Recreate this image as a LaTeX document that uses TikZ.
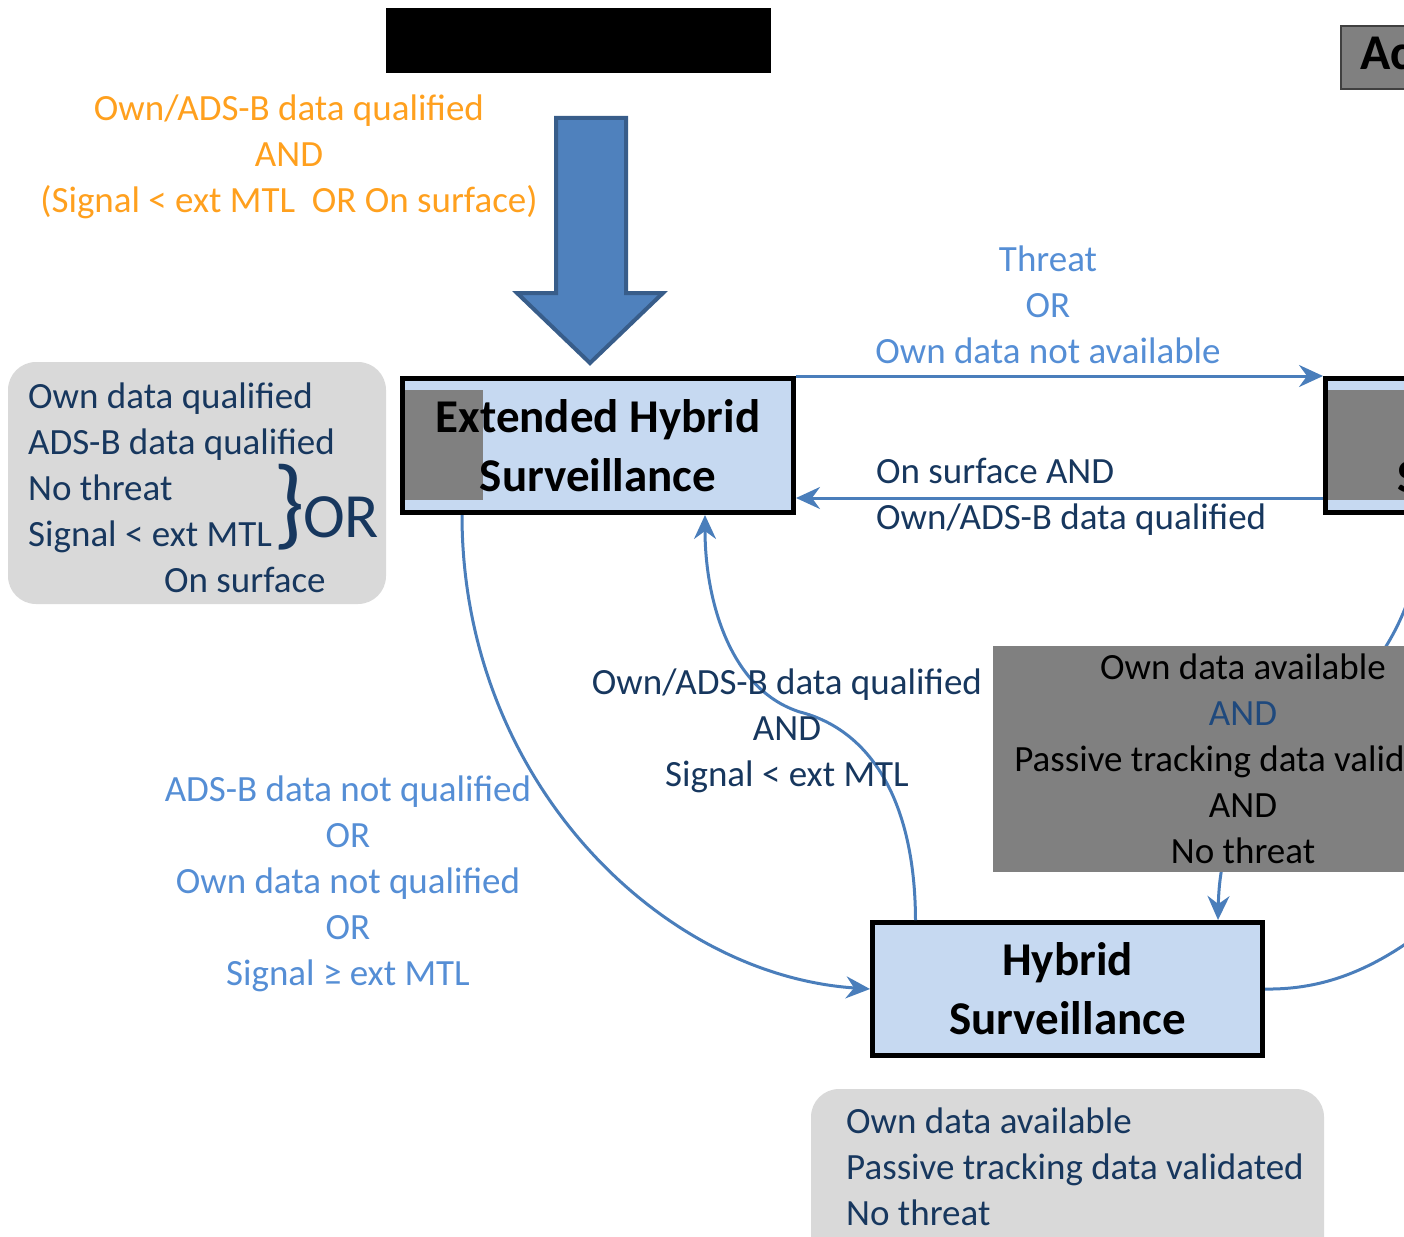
\documentclass[tikz,border=0pt]{standalone}
\usepackage{fontspec}
\setmainfont{Carlito}
\usetikzlibrary{arrows.meta}

\definecolor{connblue}{RGB}{74,126,187}
\definecolor{labelblue}{RGB}{85,142,213}
\definecolor{darknavy}{RGB}{23,55,94}
\definecolor{andblue}{RGB}{31,73,125}
\definecolor{entryorange}{RGB}{255,160,30}
\definecolor{boxblue}{RGB}{198,217,241}
\definecolor{midgray}{RGB}{128,128,128}
\definecolor{notegray}{RGB}{217,217,217}
\definecolor{arrowfill}{RGB}{79,129,189}
\definecolor{arrowedge}{RGB}{56,93,138}
\definecolor{actedge}{RGB}{64,64,64}

\begin{document}
\begin{tikzpicture}[x=1pt,y=-1pt,font=\fontsize{37}{46}\selectfont]
\tikzset{
% state boxes, the grey patch inside them, notes and transitions
state/.style={draw=black,line width=5pt,fill=boxblue,inner sep=0pt,align=center,
  font=\fontsize{47}{59}\selectfont\bfseries},
gray part/.style={path picture={\fill[midgray]
  ([xshift=2.5pt,yshift=-11.5pt]path picture bounding box.north west) rectangle
  ([xshift=#1,yshift=12.5pt]path picture bounding box.south west);}},
note/.style={fill=notegray,rounded corners=28pt},
label text/.style={inner sep=0pt},
conn/.style={connblue,line width=3pt,-{Stealth[length=24pt,width=22pt,inset=8pt]}}
}
\useasboundingbox (0,0) rectangle (1404,1236);
\clip (0,0) rectangle (1404,1236);

% top of the page
\fill (386,8) rectangle (771,73);
\node (act)[draw=actedge,fill=midgray,line width=2pt,minimum width=120pt,minimum height=63pt,
  anchor=north west,inner sep=0pt] at (1340,25) {};
\node (acttext)[label text,anchor=base west,font=\fontsize{50}{60}\selectfont\bfseries] at (1360,70) {Ac};

% entry into extended hybrid surveillance
\node (entry)[label text,entryorange,align=center,anchor=north] at (289,95)
  {Own/ADS-B data qualified\\AND\\(Signal < ext MTL\ \ OR On surface)};
\draw[fill=arrowfill,draw=arrowedge,line width=4pt] (556,118) -- (626,118) -- (626,293)
  -- (663,293) -- (590,363) -- (517,293) -- (556,293) -- cycle;

% conditions held in extended hybrid surveillance
\path[note] (8,362) rectangle (386,604);
\node (ehsnote)[label text,darknavy,align=left,anchor=north west] at (28,383)
  {Own data qualified\\ADS-B data qualified\\No threat\\Signal < ext MTL\\\hspace*{136pt}On surface};
\node (brace)[label text,darknavy,font=\fontsize{100}{110}\selectfont] at (289,507) {\}};
\node (or)[label text,darknavy,anchor=base west,font=\fontsize{63}{70}\selectfont] at (303,537) {OR};

% the states
\node (ehs)[state,gray part=80.5pt,minimum width=391pt,minimum height=134pt] at (598,445.5)
  {Extended Hybrid\\Surveillance};
\node (sv)[state,gray part=300pt,minimum width=199pt,minimum height=134pt] at (1425,445.5) {};
\node (svtext)[label text,anchor=base west,font=\fontsize{47}{59}\selectfont\bfseries] at (1397,492) {S};
\node (hs)[state,minimum width=390pt,minimum height=133pt] at (1067.5,989)
  {Hybrid\\Surveillance};

% transitions
\coordinate (lowrow) at (0,498);
\coordinate (offright) at (1460,900);
\draw[conn] (ehs.north east) -- (sv.north west);
\draw[conn] (sv.west |- lowrow) -- (ehs.east |- lowrow);
\draw[conn] ([xshift=62pt]ehs.south west) .. controls (462,780) and (660,975) .. (hs.west);
\draw[conn] ([xshift=-152pt]hs.north) .. controls (915,800) and (870,730) .. (800,712)
  .. controls (730,690) and (705,600) .. ([xshift=107pt]ehs.south);
\draw[conn] (sv.south) .. controls (1410,740) and (1222,720) .. ([xshift=150.5pt]hs.north);
\draw[connblue,line width=3pt] (hs.east) .. controls (1330,990) and (1390,965) .. (offright);

% transition conditions
\node (cond)[fill=midgray,minimum width=500pt,minimum height=226pt,align=center,inner sep=0pt]
  at (1243,759) {Own data available\\{\color{andblue}AND}\\Passive tracking data valid\phantom{ated}\\AND\\No threat};
\node (up)[label text,labelblue,align=center,anchor=north] at (1048,246)
  {Threat\\OR\\Own data not available};
\node (down)[label text,darknavy,align=left,anchor=north west] at (876,458)
  {On surface AND\\Own/ADS-B data qualified};
\node (tohs)[label text,labelblue,align=center,anchor=north] at (348,776)
  {ADS-B data not qualified\\OR\\Own data not qualified\\OR\\Signal ≥ ext MTL};
\node (toehs)[label text,darknavy,align=center,anchor=north] at (787,669)
  {Own/ADS-B data qualified\\AND\\Signal < ext MTL};

% conditions held in hybrid surveillance
\path[note] (811,1089) rectangle (1324,1290);
\node (hsnote)[label text,darknavy,align=left,anchor=north west] at (846,1108)
  {Own data available\\Passive tracking data validated\\No threat};
\end{tikzpicture}
\end{document}
